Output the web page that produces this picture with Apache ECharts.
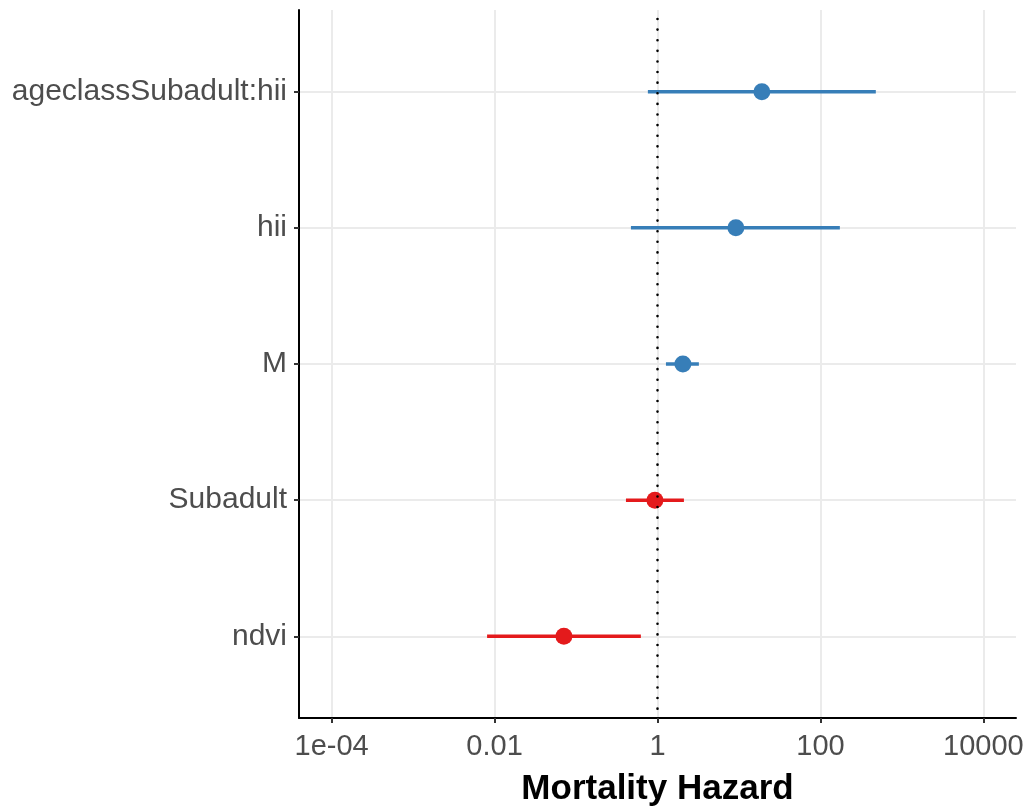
<!DOCTYPE html>
<html>
<head>
<meta charset="utf-8">
<script src="https://cdn.jsdelivr.net/npm/echarts@6/dist/echarts.min.js"></script>
<style>html,body{margin:0;padding:0;background:#fff;}#chart{width:1028px;height:808px;}</style>
</head>
<body>
<div id="chart"></div>
<script>
// Terms, bottom to top
const terms = ['ndvi', 'Subadult', 'M', 'hii', 'ageclassSubadult:hii'];
const estimate = [0.071, 0.93, 2.05, 9.16, 19.1];
const lower = [0.0081, 0.41, 1.27, 0.472, 0.762];
const upper = [0.625, 2.11, 3.22, 173, 478];
const group = ['neg', 'neg', 'pos', 'pos', 'pos'];
const xTickValues = [1e-4, 0.01, 1, 100, 10000];
const xTickLabels = ['1e-04', '0.01', '1', '100', '10000'];
const refLine = 1;

const colors = { neg: '#E41A1C', pos: '#377EB8' };
const FONT = '"Liberation Sans", Arial, Helvetica, sans-serif';

const chart = echarts.init(document.getElementById('chart'), null, { renderer: 'canvas' });

const barData = terms.map((t, i) => ({ value: [lower[i], upper[i], i], itemStyle: { color: colors[group[i]] } }));
const pointData = terms.map((t, i) => ({ value: [estimate[i], i], itemStyle: { color: colors[group[i]], opacity: 1 } }));

chart.setOption({
  backgroundColor: '#ffffff',
  animation: false,
  grid: { left: 299, right: 12, top: 10, bottom: 90, containLabel: false, outerBoundsMode: 'none' },
  xAxis: {
    type: 'log',
    logBase: 10,
    min: Math.pow(10, -4.4),
    max: Math.pow(10, 4.4),
    name: 'Mortality Hazard',
    nameLocation: 'middle',
    nameGap: 54,
    nameTextStyle: { fontFamily: FONT, fontSize: 35, fontWeight: 'bold', color: '#000' },
    axisLine: { show: true, onZero: false, lineStyle: { color: '#000', width: 2 } },
    axisTick: { show: true, length: 5, customValues: xTickValues, lineStyle: { color: '#333', width: 2 } },
    axisLabel: {
      customValues: xTickValues,
      margin: 14,
      fontFamily: FONT, fontSize: 29, color: '#4D4D4D',
      formatter: function (v) {
        const idx = xTickValues.findIndex(t => Math.abs(Math.log10(t) - Math.log10(v)) < 1e-6);
        return idx >= 0 ? xTickLabels[idx] : '';
      }
    },
    splitLine: { show: true, lineStyle: { color: '#EBEBEB', width: 2 } },
    minorSplitLine: { show: false }
  },
  yAxis: {
    type: 'value',
    min: -0.6,
    max: 4.6,
    axisLine: { show: true, onZero: false, lineStyle: { color: '#000', width: 2 } },
    axisTick: { show: true, length: 5, customValues: [0, 1, 2, 3, 4], lineStyle: { color: '#333', width: 2 } },
    axisLabel: {
      customValues: [0, 1, 2, 3, 4],
      margin: 12,
      padding: [14, 0, 0, 0],
      fontFamily: FONT, fontSize: 30, color: '#4D4D4D',
      formatter: function (v) { return terms[Math.round(v)] || ''; }
    },
    splitLine: { show: true, lineStyle: { color: '#EBEBEB', width: 2 } }
  },
  series: [
    {
      type: 'custom',
      z: 3,
      encode: { x: [0, 1], y: 2 },
      data: barData,
      renderItem: function (params, api) {
        const y = api.value(2);
        const p1 = api.coord([api.value(0), y]);
        const p2 = api.coord([api.value(1), y]);
        return {
          type: 'line',
          shape: { x1: p1[0], y1: p1[1], x2: p2[0], y2: p2[1] },
          style: { stroke: api.visual('color'), lineWidth: 3.5 }
        };
      }
    },
    {
      type: 'scatter',
      z: 4,
      symbol: 'circle',
      symbolSize: 17,
      itemStyle: { opacity: 1 },
      data: pointData
    },
    {
      type: 'custom',
      z: 6,
      silent: true,
      encode: { x: 0 },
      data: [[refLine]],
      renderItem: function (params, api) {
        const cs = params.coordSys;
        const p = api.coord([api.value(0), 0]);
        return {
          type: 'line',
          shape: { x1: p[0], y1: cs.y + 9, x2: p[0], y2: cs.y + cs.height },
          style: { stroke: '#000', lineWidth: 2.6, lineDash: [0.01, 10.6], lineCap: 'round' }
        };
      }
    }
  ]
});
</script>
</body>
</html>
